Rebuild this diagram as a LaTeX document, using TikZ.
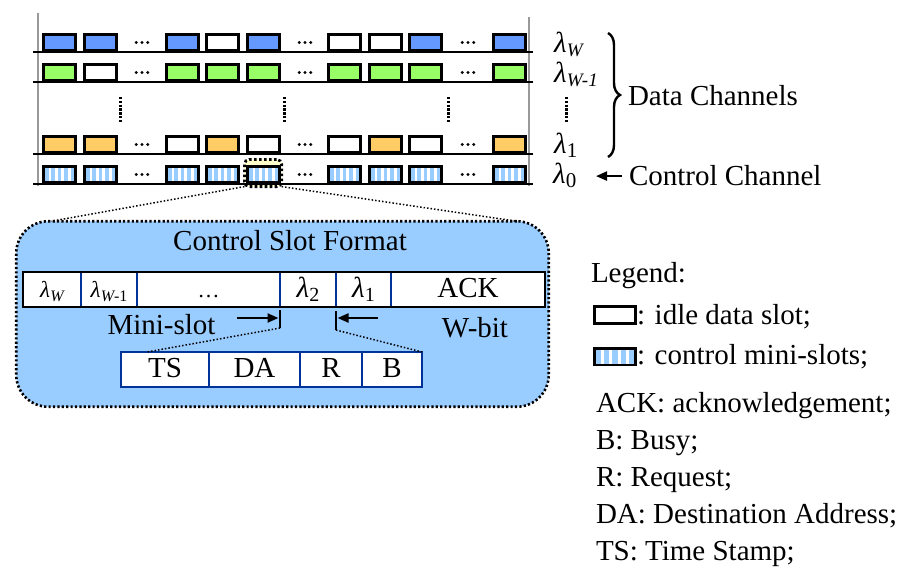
\documentclass[tikz,border=0pt]{standalone}
\usepackage{fontspec}
\setmainfont{Liberation Serif}
\usetikzlibrary{arrows.meta,calc,decorations.pathreplacing}

\definecolor{dataW}{HTML}{6699FF}
\definecolor{dataV}{HTML}{99FF66}
\definecolor{dataO}{HTML}{FFCC66}
\definecolor{ctrlblue}{HTML}{99CCFF}
\definecolor{hlyellow}{HTML}{FFFFCC}
\definecolor{fieldblue}{HTML}{003399}
\definecolor{railgray}{HTML}{999999}

% lambda with a lowered index: #1 size of lambda, #2 size of index, #3 index
\newcommand\lam[3]{{\fontsize{#1}{#1}\selectfont\itshape λ}\kern0.3pt\raisebox{-4pt}{\fontsize{#2}{#2}\selectfont #3}}

\begin{document}
\begin{tikzpicture}[x=1pt,y=-1pt,
  every node/.style={inner sep=0pt,outer sep=0pt},
  txt/.style={font=\fontsize{29}{34}\selectfont},
  slot/.style={rectangle,draw=black,line width=3pt,minimum width=32pt,minimum height=16.4pt},
  striped/.style={slot,fill=ctrlblue,path picture={
      \foreach \k in {1,2,3,4}{
        \fill[white] ($(path picture bounding box.south west)!\k/5!(path picture bounding box.south east)$)
          ++(-1.4pt,-5pt) rectangle ++(2.8pt,40pt);}}},
  rail/.style={draw=railgray,line width=1.5pt},
  chan/.style={draw=black,line width=2pt},
  vdots/.style={line width=3pt,dash pattern=on 2.4pt off 1.4pt},
  hlbox/.style={rectangle,draw=black,fill=hlyellow,rounded corners=5pt,line width=2.8pt,
      dash pattern=on 2.6pt off 2.4pt,minimum width=37.2pt,minimum height=27.2pt},
  fmtbox/.style={rectangle,draw=black,fill=ctrlblue,rounded corners=32pt,line width=2.6pt,
      dash pattern=on 2.2pt off 2.2pt,minimum width=532.5pt,minimum height=185.5pt},
  zoomline/.style={line width=1.5pt,dash pattern=on 1.5pt off 2pt},
  cell/.style={txt,rectangle,fill=white,minimum height=35pt,text height=25pt,text depth=10pt},
  field/.style={cell,draw=fieldblue,line width=2.8pt},
  divider/.style={draw=fieldblue,line width=2.8pt},
  outline/.style={draw=black,line width=2.8pt},
  bar/.style={line width=2.2pt},
  tip/.style={-{Triangle[length=11pt,width=9pt]},line width=2.2pt},
  bracestyle/.style={line width=2.4pt,decorate,decoration={brace,amplitude=12pt}}]

\useasboundingbox (0,0) rectangle (902,570);

% ---- highlighted control slot (behind the channel lines) ----
\node[hlbox] (hl) at (263,173) {};

% ---- rails and channel lines ----
\draw[rail] (38,13) -- (38,186);
\draw[rail] (529,17) -- (529,186);
\foreach \y in {52,82,154,184} \draw[chan] (33,\y) -- (533,\y);

% ---- data slots ----
\foreach \x/\c [count=\i] in {59.5/dataW,100.5/dataW,182.5/dataW,222.5/white,263.5/dataW,344.5/white,385.5/white,425.5/dataW,509.5/dataW}
  \node[slot,fill=\c] (sW\i) at (\x,42.5) {};
\foreach \x/\c [count=\i] in {59.5/dataV,100.5/white,182.5/dataV,222.5/dataV,263.5/dataV,344.5/dataV,385.5/dataV,425.5/dataV,509.5/dataV}
  \node[slot,fill=\c] (sV\i) at (\x,72.5) {};
\foreach \x/\c [count=\i] in {59.5/dataO,100.5/dataO,182.5/white,222.5/dataO,263.5/white,344.5/white,385.5/dataO,425.5/white,509.5/dataO}
  \node[slot,fill=\c] (sO\i) at (\x,144.5) {};
% ---- control mini-slots ----
\foreach \x [count=\i] in {59.5,100.5,182.5,222.5,263.5,344.5,385.5,425.5,509.5}
  \node[striped] (sC\i) at (\x,174.5) {};

% ---- ellipses between slots ----
\foreach \x in {142,305,468}
  \foreach \y in {42.5,72.5,144.5,174.5}
    \foreach \d in {-5.7,0,5.7}
      \fill (\x+\d,\y) circle[radius=1.6pt];
\foreach \x in {120,284,448,566} \draw[vdots] (\x,97) -- (\x,122);

% ---- channel labels ----
\node[txt,anchor=base west] (lW) at (554,52) {\lam{29}{19}{\itshape W}};
\node[txt,anchor=base west] (lV) at (554,82) {\lam{29}{19}{\itshape W-1}};
\node[txt,anchor=base west] (l1) at (554,153) {\lam{29}{21}{1}};
\node[txt,anchor=base west] (l0) at (553,183) {\lam{29}{21}{0}};
\draw[bracestyle] (608,33) -- (608,157);
\node[txt,anchor=base west] (dc) at (628,105) {Data Channels};
\node[txt,anchor=base west] (cc) at (629,185) {Control Channel};
\draw[tip] ($(cc.west)+(-7,1)$) -- ++(-26,0);

% ---- control slot format ----
\node[fmtbox] (fmt) at (282.5,314) {};
\draw[zoomline] (hl.south west) -- ($(fmt.north west)+(35,0)$);
\draw[zoomline] (hl.south east) -- ($(fmt.north east)+(-32,0)$);
\node[txt,anchor=base] (title) at (290,250) {Control Slot Format};

\node[cell,minimum width=58pt]  (c1) at (52,289.5)    {\lam{23}{16}{\itshape W}};
\node[cell,minimum width=56pt]  (c2) at (109,289.5)   {\lam{23}{16}{{\itshape W}-1}};
\node[cell,minimum width=143pt] (c3) at (208.5,289.5) {\fontsize{22}{22}\selectfont …};
\node[cell,minimum width=56pt]  (c4) at (308,289.5)   {\lam{29}{20}{2}};
\node[cell,minimum width=55pt]  (c5) at (363.5,289.5) {\lam{29}{20}{1}};
\node[cell,minimum width=154pt] (c6) at (468,289.5)   {ACK};
\foreach \a in {c1,c2,c3,c4,c5} \draw[divider] (\a.north east) -- (\a.south east);
\draw[outline] (c1.north west) rectangle (c6.south east);

% ---- mini-slot and W-bit markers ----
\coordinate (lbt) at (280,310);
\coordinate (lbb) at (280,328);
\coordinate (lbm) at (280,318);
\coordinate (la)  at (237,318);
\coordinate (rbt) at (336,311);
\coordinate (rbb) at (336,330);
\coordinate (rbm) at (336,318);
\coordinate (ra)  at (378,318);
\draw[bar] (lbt) -- (lbb);
\draw[bar] (rbt) -- (rbb);
\draw[tip,shorten >=1.5pt] (la) -- (lbm);
\draw[tip,shorten >=1.5pt] (ra) -- (rbm);
\node[txt,anchor=base] (ms) at (161.5,334) {Mini-slot};
\node[txt,anchor=base] (wb) at (475,337) {W-bit};

% ---- mini-slot fields ----
\node[field,minimum width=88pt] (ts) at (165,369.5)   {TS};
\node[field,minimum width=91pt] (da) at (254.5,369.5) {DA};
\node[field,minimum width=62pt] (rq) at (331,369.5)   {R};
\node[field,minimum width=60pt] (bs) at (392,369.5)   {B};
\draw[zoomline] (lbb) -- ($(ts.north west)+(26,0)$);
\draw[zoomline] (rbb) -- (bs.north east);

% ---- legend ----
\node[txt,anchor=base west] (leg) at (591,282) {Legend:};
\node[slot,fill=white,line width=2.6pt,minimum width=41.4pt,minimum height=17.4pt] (lgidle) at (615,315) {};
\node[txt,anchor=base west] (lgidlet) at (637,324) {: idle data slot;};
\node[striped,line width=2.6pt,minimum width=41.4pt,minimum height=16.6pt] (lgctrl) at (615,356.5) {};
\node[txt,anchor=base west] (lgctrlt) at (637,364) {: control mini-slots;};
\node[txt,anchor=base west] (kACK) at (596,412) {ACK: acknowledgement;};
\node[txt,anchor=base west] (kB)   at (596,449) {B: Busy;};
\node[txt,anchor=base west] (kR)   at (596,486) {R: Request;};
\node[txt,anchor=base west] (kDA)  at (596,523) {DA: Destination Address;};
\node[txt,anchor=base west] (kTS)  at (596,560) {TS: Time Stamp;};
\end{tikzpicture}
\end{document}
